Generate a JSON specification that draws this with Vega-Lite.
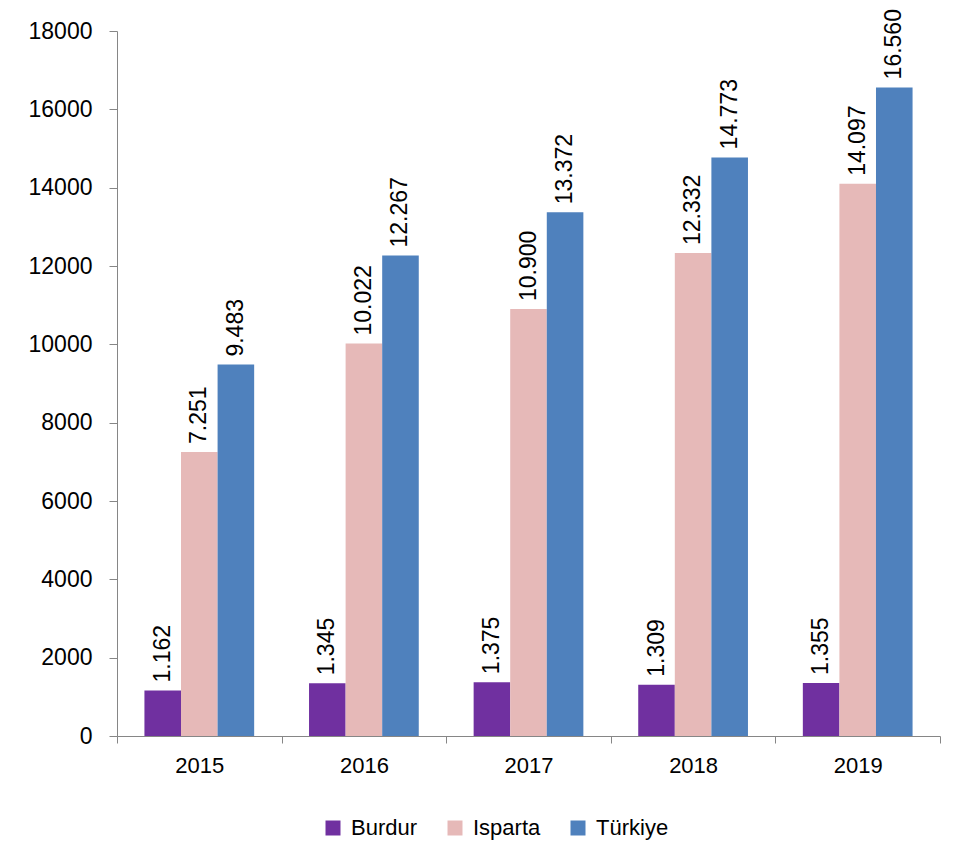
{
  "$schema": "https://vega.github.io/schema/vega-lite/v6.json",
  "autosize": "none",
  "width": 823,
  "height": 705,
  "padding": {"left": 117, "top": 31, "right": 16, "bottom": 131},
  "background": "white",
  "config": {
    "locale": {"number": {"decimal": ",", "thousands": ".", "grouping": [3], "currency": ["", ""]}},
    "view": {"stroke": null},
    "font": "Liberation Sans"
  },
  "data": {
    "values": [
      {"year": "2015", "region": "Burdur", "value": 1162},
      {"year": "2015", "region": "Isparta", "value": 7251},
      {"year": "2015", "region": "Türkiye", "value": 9483},
      {"year": "2016", "region": "Burdur", "value": 1345},
      {"year": "2016", "region": "Isparta", "value": 10022},
      {"year": "2016", "region": "Türkiye", "value": 12267},
      {"year": "2017", "region": "Burdur", "value": 1375},
      {"year": "2017", "region": "Isparta", "value": 10900},
      {"year": "2017", "region": "Türkiye", "value": 13372},
      {"year": "2018", "region": "Burdur", "value": 1309},
      {"year": "2018", "region": "Isparta", "value": 12332},
      {"year": "2018", "region": "Türkiye", "value": 14773},
      {"year": "2019", "region": "Burdur", "value": 1355},
      {"year": "2019", "region": "Isparta", "value": 14097},
      {"year": "2019", "region": "Türkiye", "value": 16560}
    ]
  },
  "encoding": {
    "x": {
      "field": "year", "type": "nominal",
      "scale": {"paddingInner": 0, "paddingOuter": 0},
      "axis": {
        "title": null, "labelAngle": 0, "labelFontSize": 22, "labelColor": "black",
        "labelPadding": 12, "domainColor": "#868686", "tickColor": "#868686",
        "tickBand": "extent", "tickSize": 7, "grid": false
      }
    },
    "xOffset": {
      "field": "region", "type": "nominal", "sort": ["Burdur", "Isparta", "Türkiye"],
      "scale": {"paddingInner": 0, "paddingOuter": 0.75}
    },
    "y": {
      "field": "value", "type": "quantitative",
      "scale": {"domain": [0, 18000], "nice": false},
      "axis": {
        "title": null, "values": [0, 2000, 4000, 6000, 8000, 10000, 12000, 14000, 16000, 18000],
        "format": "d", "labelFontSize": 23, "labelColor": "black", "labelPadding": 17,
        "domainColor": "#868686", "tickColor": "#868686", "tickSize": 8, "grid": false
      }
    }
  },
  "layer": [
    {
      "mark": {"type": "bar"},
      "encoding": {
        "color": {
          "field": "region", "type": "nominal",
          "scale": {"domain": ["Burdur", "Isparta", "Türkiye"], "range": ["#7030A0", "#E6B9B8", "#4F81BD"]},
          "legend": {
            "title": null, "orient": "none", "legendX": 205, "legendY": 786,
            "direction": "horizontal", "padding": 0,
            "symbolType": "square", "symbolSize": 225, "symbolStrokeWidth": 0,
            "labelFontSize": 22, "labelColor": "black", "columnPadding": 26,
            "labelOffset": 7
          }
        }
      }
    },
    {
      "mark": {"type": "text", "angle": -90, "align": "left", "baseline": "middle", "dx": 8, "fontSize": 23, "color": "black"},
      "encoding": {
        "text": {"field": "value", "type": "quantitative", "format": ",d"}
      }
    }
  ]
}
